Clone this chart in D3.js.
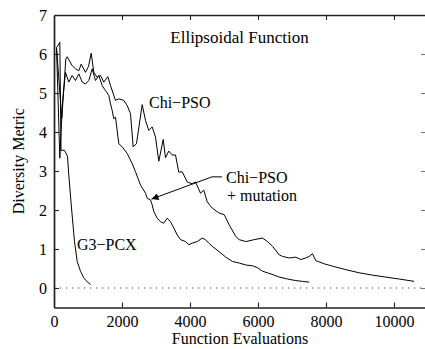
<!DOCTYPE html>
<html><head><meta charset="utf-8">
<script src="https://cdn.jsdelivr.net/npm/d3@7"></script>
<style>
body{margin:0;background:#fff}
svg{display:block}
</style>
</head><body>
<svg id="c" width="425" height="349"></svg>
<script>
// ---- data ----
const chiEvals = [74,229,347,388,535,632,729,800,926,1015,1094,1171,1271,1368,1465,1582,1662,1809,1906,2053,2153,2250,2329,2426,2594,2691,2788,2888,2985,3082,3212,3279,3376,3476,3574,3671,3771,3918,4065,4162,4309,4406,4506,4653,4859,5006,5153,5347,5447,5641,5888,6132,6279,6426,6624,6721,6918,7112,7259,7406,7506,7603,7700,7800,7947,8191,8582,8976,9368,9759,10153,10594];
const chiValues = [6.16,4.35,5.87,5.93,5.70,5.62,5.57,5.74,5.53,5.68,6.02,5.53,5.40,5.45,5.28,5.42,5.19,4.81,4.85,4.81,4.68,4.47,3.62,3.70,4.70,4.30,4.04,4.13,3.87,3.25,3.81,3.34,3.51,3.41,3.41,2.97,2.98,2.72,2.67,2.72,2.43,2.51,2.21,2.05,1.92,1.88,1.62,1.32,1.24,1.19,1.24,1.28,1.19,1.07,0.85,0.81,0.77,0.79,0.73,0.77,0.81,0.88,0.70,0.67,0.62,0.56,0.47,0.39,0.33,0.28,0.23,0.17];

const mutEvals = [74,171,250,338,435,535,632,729,829,926,1024,1124,1221,1318,1418,1515,1612,1662,1712,1759,1809,1906,2006,2153,2300,2397,2544,2691,2741,2838,2888,2935,3035,3132,3229,3329,3426,3524,3624,3721,3868,3965,4065,4212,4359,4456,4553,4653,4859,5053,5250,5447,5641,5838,5985,6132,6279,6476,6624,6868,7112,7309,7506];
const mutValues = [6.16,3.33,4.77,5.53,5.28,5.45,5.32,5.49,5.28,5.23,5.32,5.62,5.32,5.45,5.19,5.06,4.94,4.72,4.55,4.34,4.38,3.70,3.62,3.45,3.19,2.98,2.64,2.43,2.30,2.26,2.13,1.96,1.79,1.70,1.66,1.79,1.70,1.54,1.36,1.24,1.19,1.11,1.15,1.19,1.28,1.24,1.15,1.07,0.93,0.79,0.68,0.64,0.59,0.57,0.52,0.43,0.39,0.33,0.28,0.23,0.19,0.17,0.15];

const g3Evals = [74,171,206,309,397,435,515,603,682,779,876,976,1074];
const g3Values = [6.16,6.30,3.53,3.53,3.38,2.90,2.05,1.19,0.68,0.43,0.26,0.16,0.09];

const xTicks = [0,2000,4000,6000,8000,10000];
const yTicks = [0,1,2,3,4,5,6,7];
const xInnerTicks = [2000,4000,6000,8000,10000];

const titleText = "Ellipsoidal Function";
const xLabel = "Function Evaluations";
const yLabel = "Diversity Metric";

// annotations, in data units
const labels = [
  {text:"Chi\u2212PSO", x:2794, y:4.62, anchor:"start"},
  {text:"Chi\u2212PSO", x:5059, y:2.69, anchor:"start"},
  {text:"+ mutation", x:5088, y:2.22, anchor:"start"},
  {text:"G3\u2212PCX", x:676, y:0.97, anchor:"start"}
];
const arrowPts = [[4940,2.85],[4647,2.85],[2868,2.28]];

// ---- chart ----
const FONT = "\"Liberation Serif\", serif";
const svg = d3.select("#c");
const x = d3.scaleLinear().domain([0,10912]).range([54,425]);
const y = d3.scaleLinear().domain([-0.5,7]).range([307.5,15]);
const FS = 16;
const frameColor = "#222";

// dotted zero line
svg.append("line")
  .attr("x1", x(0)).attr("x2", x.range()[1])
  .attr("y1", y(0)).attr("y2", y(0))
  .attr("stroke","#444").attr("stroke-width",1.1)
  .attr("stroke-dasharray","1.2,4.8");

// axes
const gBottom = svg.append("g").attr("transform",`translate(0,${y(-0.5)})`)
  .call(d3.axisBottom(x).tickValues(xTicks).tickSizeInner(-5).tickSizeOuter(0).tickPadding(8).tickFormat(d3.format("d")));
const gLeft = svg.append("g").attr("transform",`translate(${x(0)},0)`)
  .call(d3.axisLeft(y).tickValues(yTicks).tickSizeInner(-5).tickSizeOuter(0).tickPadding(7).tickFormat(d3.format("d")));
const gTop = svg.append("g").attr("transform",`translate(0,${y(7)})`)
  .call(d3.axisTop(x).tickValues(xInnerTicks).tickSizeInner(-5).tickSizeOuter(0).tickFormat(""));
const gRight = svg.append("g").attr("transform",`translate(${x.range()[1]},0)`)
  .call(d3.axisRight(y).tickValues(yTicks.slice(0,7)).tickSizeInner(-4).tickSizeOuter(0).tickFormat(""));

[gBottom,gLeft,gTop].forEach(g=>{
  g.attr("font-family", FONT).attr("font-size", FS);
  g.select(".domain").attr("stroke",frameColor).attr("stroke-width",1.7);
  g.selectAll(".tick line").attr("stroke",frameColor).attr("stroke-width",1.1);
  g.selectAll(".tick text").style("font-size",FS+"px").style("font-family",FONT).attr("fill","#000");
});
gBottom.selectAll(".tick").filter(d=>d===0).select("line").remove();
gLeft.selectAll(".tick").filter(d=>d===7).select("line").remove();
gRight.select(".domain").remove();
gRight.selectAll(".tick line").attr("stroke","#777").attr("stroke-width",1.1);

// lines
const line = d3.line().x(d=>x(d[0])).y(d=>y(d[1]));
function draw(ev, vals){
  svg.append("path").datum(ev.map((e,i)=>[e,vals[i]]))
    .attr("d",line).attr("fill","none").attr("stroke","#000")
    .attr("stroke-width",1).attr("stroke-linejoin","round");
}
draw(chiEvals, chiValues);
draw(mutEvals, mutValues);
draw(g3Evals, g3Values);

function txt(size){
  return svg.append("text").style("font-family",FONT).style("font-size",(size||FS)+"px").attr("fill","#000");
}
// title
txt(17).attr("x",x(5456)).attr("y",y(6.28)).attr("text-anchor","middle").text(titleText);

// labels
labels.forEach(l=>{
  txt().attr("x",x(l.x)).attr("y",y(l.y)).attr("text-anchor",l.anchor).text(l.text);
});

// arrow
svg.append("defs").append("marker").attr("id","ah")
  .attr("viewBox","0 0 10 10").attr("refX",10).attr("refY",5)
  .attr("markerWidth",9).attr("markerHeight",7).attr("markerUnits","userSpaceOnUse")
  .attr("orient","auto")
  .append("path").attr("d","M0,0 L10,5 L0,10 Z").attr("fill","#000");
svg.append("path").datum(arrowPts)
  .attr("d",line).attr("fill","none").attr("stroke","#000").attr("stroke-width",1)
  .attr("marker-end","url(#ah)");

// axis titles
txt().attr("x",x(5471)).attr("y",344).attr("text-anchor","middle").text(xLabel);
txt().attr("transform",`translate(24,${(y(7)+y(-0.5))/2}) rotate(-90)`)
  .attr("text-anchor","middle").text(yLabel);
</script>
</body></html>
